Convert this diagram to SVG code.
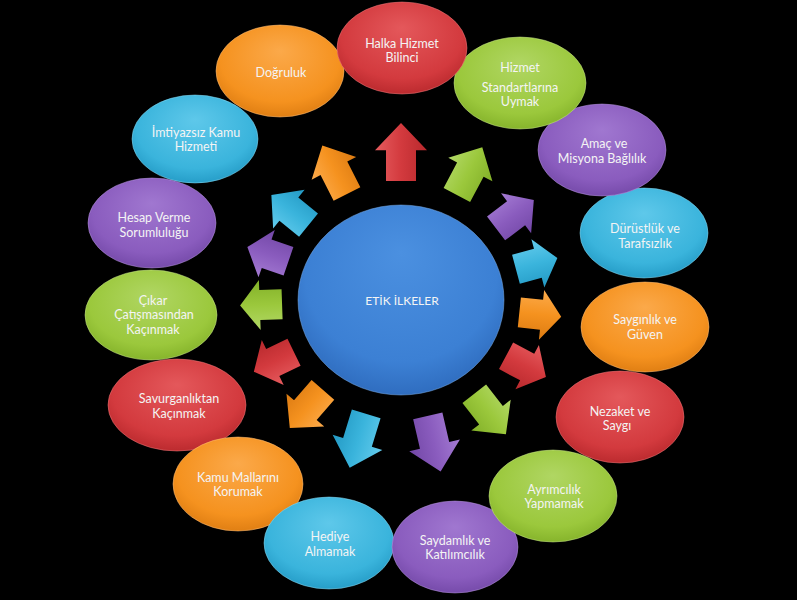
<svg xmlns="http://www.w3.org/2000/svg" width="797" height="600" viewBox="0 0 797 600">
<defs>
<radialGradient id="gRed" cx="0.5" cy="0.4" r="0.62" fx="0.5" fy="0.28"><stop offset="0" stop-color="#e4585b"/><stop offset="0.75" stop-color="#d33a3e"/><stop offset="1" stop-color="#b9292d"/></radialGradient>
<radialGradient id="gOrange" cx="0.5" cy="0.4" r="0.62" fx="0.5" fy="0.28"><stop offset="0" stop-color="#fba94a"/><stop offset="0.75" stop-color="#f5921f"/><stop offset="1" stop-color="#de7d12"/></radialGradient>
<radialGradient id="gGreen" cx="0.5" cy="0.4" r="0.62" fx="0.5" fy="0.28"><stop offset="0" stop-color="#b0d663"/><stop offset="0.75" stop-color="#9bc83c"/><stop offset="1" stop-color="#84b22a"/></radialGradient>
<radialGradient id="gPurple" cx="0.5" cy="0.4" r="0.62" fx="0.5" fy="0.28"><stop offset="0" stop-color="#a077d0"/><stop offset="0.75" stop-color="#8a5cbe"/><stop offset="1" stop-color="#7449a8"/></radialGradient>
<radialGradient id="gCyan" cx="0.5" cy="0.4" r="0.62" fx="0.5" fy="0.28"><stop offset="0" stop-color="#5ec8ea"/><stop offset="0.75" stop-color="#3ab4dc"/><stop offset="1" stop-color="#249bc6"/></radialGradient>
<radialGradient id="gBlue" cx="0.5" cy="0.4" r="0.62" fx="0.5" fy="0.25"><stop offset="0" stop-color="#4b90e0"/><stop offset="0.75" stop-color="#3c80d4"/><stop offset="1" stop-color="#2e6bbd"/></radialGradient>
<linearGradient id="aRed" x1="0" y1="0" x2="0" y2="1"><stop offset="0" stop-color="#e65c5f"/><stop offset="0.5" stop-color="#d33a3e"/><stop offset="1" stop-color="#b8292d"/></linearGradient>
<linearGradient id="aOrange" x1="0" y1="0" x2="0" y2="1"><stop offset="0" stop-color="#fcab4c"/><stop offset="0.5" stop-color="#f5921f"/><stop offset="1" stop-color="#dc7b12"/></linearGradient>
<linearGradient id="aGreen" x1="0" y1="0" x2="0" y2="1"><stop offset="0" stop-color="#b2d866"/><stop offset="0.5" stop-color="#9bc83c"/><stop offset="1" stop-color="#82b028"/></linearGradient>
<linearGradient id="aPurple" x1="0" y1="0" x2="0" y2="1"><stop offset="0" stop-color="#a47bd3"/><stop offset="0.5" stop-color="#8a5cbe"/><stop offset="1" stop-color="#7247a6"/></linearGradient>
<linearGradient id="aCyan" x1="0" y1="0" x2="0" y2="1"><stop offset="0" stop-color="#63cbec"/><stop offset="0.5" stop-color="#3ab4dc"/><stop offset="1" stop-color="#2399c4"/></linearGradient>
</defs>
<style>
.lbl{font-family:Lato,"Open Sans","Liberation Sans",sans-serif;font-size:12.5px;fill:#f4f4f4;text-anchor:middle}
.ctr{font-size:12px}
.e{stroke-width:1;stroke-opacity:0.5}
.red{fill:url(#gRed);stroke:#f07a7c}
.orange{fill:url(#gOrange);stroke:#ffc07a}
.green{fill:url(#gGreen);stroke:#c8e68a}
.purple{fill:url(#gPurple);stroke:#b895e0}
.cyan{fill:url(#gCyan);stroke:#8ad9f2}
.blue{fill:url(#gBlue);stroke:#7aaeea}
</style>
<rect x="0" y="0" width="797" height="600" fill="#000"/>

<g id="connectors">
<path fill="url(#aRed)" transform="translate(401 300) rotate(-90)" d="M119,-15 L149.7,-15 L149.7,-26 L177,0 L149.7,26 L149.7,15 L119,15 Z"/>
<path fill="url(#aGreen)" transform="translate(401 300) rotate(-62)" d="M119,-15 L147.7,-15 L147.7,-25 L173.1,0 L147.7,25 L147.7,15 L119,15 Z"/>
<path fill="url(#aPurple)" transform="translate(401 300) rotate(-37)" d="M119,-15 L144.1,-15 L144.1,-25 L166.3,0 L144.1,25 L144.1,15 L119,15 Z"/>
<path fill="url(#aCyan)" transform="translate(401 300) rotate(-15)" d="M119,-15 L141.7,-15 L141.7,-25 L161.9,0 L141.7,25 L141.7,15 L119,15 Z"/>
<path fill="url(#aOrange)" transform="translate(401 300) rotate(6)" d="M119,-15 L141.3,-15 L141.3,-25 L161.1,0 L141.3,25 L141.3,15 L119,15 Z"/>
<path fill="url(#aRed)" transform="translate(401 300) rotate(28)" d="M119,-15 L142.9,-15 L142.9,-25 L164.1,0 L142.9,25 L142.9,15 L119,15 Z"/>
<path fill="url(#aGreen)" transform="translate(401 300) rotate(52)" d="M119,-15 L146.2,-15 L146.2,-25 L170.4,0 L146.2,25 L146.2,15 L119,15 Z"/>
<path fill="url(#aPurple)" transform="translate(401 300) rotate(77)" d="M119,-15 L149.3,-15 L149.3,-26 L176.1,0 L149.3,26 L149.3,15 L119,15 Z"/>
<path fill="url(#aCyan)" transform="translate(401 300) rotate(107)" d="M119,-15 L148.9,-15 L148.9,-26 L175.4,0 L148.9,26 L148.9,15 L119,15 Z"/>
<path fill="url(#aOrange)" transform="translate(401 300) rotate(131)" d="M119,-15 L145.8,-15 L145.8,-25 L169.5,0 L145.8,25 L145.8,15 L119,15 Z"/>
<path fill="url(#aRed)" transform="translate(401 300) rotate(154)" d="M119,-15 L142.7,-15 L142.7,-25 L163.7,0 L142.7,25 L142.7,15 L119,15 Z"/>
<path fill="url(#aGreen)" transform="translate(401 300) rotate(178)" d="M119,-15 L141.3,-15 L141.3,-25 L161,0 L141.3,25 L141.3,15 L119,15 Z"/>
<path fill="url(#aPurple)" transform="translate(401 300) rotate(199)" d="M119,-15 L142.1,-15 L142.1,-25 L162.5,0 L142.1,25 L142.1,15 L119,15 Z"/>
<path fill="url(#aCyan)" transform="translate(401 300) rotate(219)" d="M119,-15 L144.3,-15 L144.3,-25 L166.8,0 L144.3,25 L144.3,15 L119,15 Z"/>
<path fill="url(#aOrange)" transform="translate(401 300) rotate(243)" d="M119,-15 L147.8,-15 L147.8,-25 L173.3,0 L147.8,25 L147.8,15 L119,15 Z"/>
</g>

<g id="center">
<ellipse class="e blue" cx="401" cy="300" rx="103" ry="95"/>
<text class="lbl ctr" x="402" y="305">ETİK İLKELER</text>
</g>

<g id="n15">
<ellipse class="e orange" cx="280" cy="71" rx="64" ry="46"/>
<text class="lbl" x="281" y="76.5">Doğruluk</text>
</g>
<g id="n14">
<ellipse class="e cyan" cx="195" cy="139" rx="63" ry="44"/>
<text class="lbl" x="196" y="136.5">İmtiyazsız Kamu</text>
<text class="lbl" x="196" y="150.5">Hizmeti</text>
</g>
<g id="n13">
<ellipse class="e purple" cx="152" cy="223" rx="64" ry="45"/>
<text class="lbl" x="154" y="221.5">Hesap Verme</text>
<text class="lbl" x="154" y="236.5">Sorumluluğu</text>
</g>
<g id="n12">
<ellipse class="e green" cx="151" cy="315" rx="66" ry="45"/>
<text class="lbl" x="153" y="304.5">Çıkar</text>
<text class="lbl" x="154" y="318.5">Çatışmasından</text>
<text class="lbl" x="153" y="333.5">Kaçınmak</text>
</g>
<g id="n11">
<ellipse class="e red" cx="177" cy="405" rx="69" ry="46"/>
<text class="lbl" x="179" y="402.5">Savurganlıktan</text>
<text class="lbl" x="179" y="417.5">Kaçınmak</text>
</g>
<g id="n10">
<ellipse class="e orange" cx="238" cy="484" rx="65" ry="47"/>
<text class="lbl" x="238" y="481.5">Kamu Mallarını</text>
<text class="lbl" x="238" y="495.5">Korumak</text>
</g>
<g id="n9">
<ellipse class="e cyan" cx="329" cy="543" rx="65" ry="46"/>
<text class="lbl" x="330" y="540.5">Hediye</text>
<text class="lbl" x="330" y="555.5">Almamak</text>
</g>
<g id="n8">
<ellipse class="e purple" cx="455" cy="547" rx="63" ry="46"/>
<text class="lbl" x="455" y="544.5">Saydamlık ve</text>
<text class="lbl" x="455" y="558.5">Katılımcılık</text>
</g>
<g id="n7">
<ellipse class="e green" cx="553" cy="496" rx="64" ry="46"/>
<text class="lbl" x="554" y="493.5">Ayrımcılık</text>
<text class="lbl" x="554" y="507.5">Yapmamak</text>
</g>
<g id="n6">
<ellipse class="e red" cx="620" cy="417" rx="64" ry="46"/>
<text class="lbl" x="620" y="415.5">Nezaket ve</text>
<text class="lbl" x="617" y="429.5">Saygı</text>
</g>
<g id="n5">
<ellipse class="e orange" cx="645" cy="327" rx="64" ry="45"/>
<text class="lbl" x="645" y="323.5">Saygınlık ve</text>
<text class="lbl" x="645" y="338.5">Güven</text>
</g>
<g id="n4">
<ellipse class="e cyan" cx="644" cy="233" rx="64" ry="45"/>
<text class="lbl" x="645" y="232.5">Dürüstlük ve</text>
<text class="lbl" x="645" y="247.5">Tarafsızlık</text>
</g>
<g id="n3">
<ellipse class="e purple" cx="602" cy="150" rx="64" ry="46"/>
<text class="lbl" x="604" y="147.5">Amaç ve</text>
<text class="lbl" x="602" y="162.5">Misyona Bağlılık</text>
</g>
<g id="n2">
<ellipse class="e green" cx="520" cy="83" rx="66" ry="46"/>
<text class="lbl" x="520" y="71.5">Hizmet</text>
<text class="lbl" x="520" y="91.5">Standartlarına</text>
<text class="lbl" x="520" y="105.5">Uymak</text>
</g>
<g id="n1">
<ellipse class="e red" cx="402" cy="48" rx="65" ry="46"/>
<text class="lbl" x="402" y="47.5">Halka Hizmet</text>
<text class="lbl" x="402" y="61.5">Bilinci</text>
</g>
</svg>
